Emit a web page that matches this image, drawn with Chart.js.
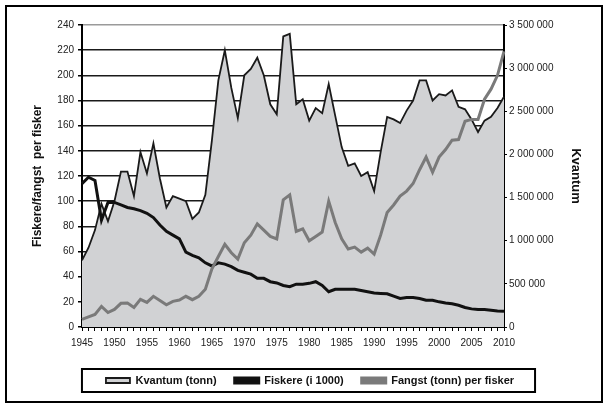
<!DOCTYPE html>
<html>
<head>
<meta charset="utf-8">
<script src="https://cdn.jsdelivr.net/npm/chart.js@4"></script>
<style>
  body { margin: 0; background: #fff; }
  #wrap { width: 610px; height: 406px; }
</style>
</head>
<body>
<div id="wrap"><canvas id="myChart" width="610" height="406"></canvas></div>
<script>
// years 1945-2010
const years = [];
for (let y = 1945; y <= 2010; y++) years.push(String(y));

// Kvantum (tonn), right axis
const kvantum = [
  773000, 919000, 1123000, 1429000, 1225000, 1458000, 1801000, 1801000, 1517000, 2027000,
  1779000, 2129000, 1721000, 1385000, 1517000, 1488000, 1458000, 1254000, 1327000, 1531000,
  2158000, 2858000, 3208000, 2771000, 2421000, 2917000, 2990000, 3121000, 2917000, 2581000,
  2465000, 3369000, 3398000, 2581000, 2640000, 2392000, 2538000, 2479000, 2815000, 2450000,
  2085000, 1867000, 1896000, 1750000, 1794000, 1575000, 2027000, 2435000, 2406000, 2363000,
  2508000, 2625000, 2858000, 2858000, 2625000, 2698000, 2683000, 2742000, 2552000, 2523000,
  2406000, 2260000, 2392000, 2435000, 2538000, 2669000
];

// Fiskere (i 1000), left axis
const fiskere = [
  114, 119, 116.5, 85, 99, 99, 97, 95, 94, 92.5,
  90.4, 87, 81, 76, 73, 70, 59.5, 57, 55, 51,
  48.5, 51, 50, 48, 45, 43.5, 42, 38.7, 38.7, 36,
  35, 33, 32, 34, 34, 34.7, 36, 33, 28, 30,
  30, 30, 30, 29, 28, 27, 26.7, 26.4, 24.5, 22.7,
  23.5, 23.5, 22.7, 21.3, 21.3, 20, 19, 18.4, 17.3, 15.5,
  14.4, 13.9, 13.9, 13.3, 12.8, 12.5
];

// Fangst (tonn) per fisker, left axis
const fangst = [
  6, 8, 10, 16.4, 11.5, 14, 18.8, 19, 15.5, 22,
  19.5, 24.4, 21, 17.7, 20.4, 21.4, 24.4, 21.7, 24.4, 30,
  46, 56, 65.7, 59, 54, 67, 73, 82, 77, 72,
  70, 101, 105, 76, 78, 68.5, 72, 75.5, 100, 83,
  70, 62, 63.5, 59.5, 62.7, 58, 73, 91, 97, 104,
  108, 114, 125, 135, 123, 135, 141, 148.5, 149, 163.5,
  165, 165, 181, 189, 200, 219
];

const font = "'Liberation Sans', Arial, sans-serif";
Chart.defaults.font.family = font;
Chart.defaults.color = "#111";

function spaced(v) {
  return String(v).replace(/\B(?=(\d{3})+(?!\d))/g, ' ');
}

const frame = {
  id: 'frame',
  afterDraw(chart) {
    const ctx = chart.ctx;
    ctx.save();
    ctx.strokeStyle = '#000';
    ctx.lineWidth = 2;
    ctx.strokeRect(6, 6, 596, 396);
    const boxes = chart.legend.legendHitBoxes;
    if (boxes && boxes.length) {
      let l = Infinity, r = -Infinity, t = Infinity, b = -Infinity;
      boxes.forEach(h => {
        l = Math.min(l, h.left); r = Math.max(r, h.left + h.width);
        t = Math.min(t, h.top); b = Math.max(b, h.top + h.height);
      });
      ctx.strokeRect(l - 24, t - 6, (r - l) + 45, (b - t) + 12);
    }
    ctx.restore();
  }
};

const ctx = document.getElementById('myChart').getContext('2d');
const myChart = new Chart(ctx, {
  type: 'line',
  data: {
    labels: years,
    datasets: [{
      label: 'Kvantum (tonn)',
      data: kvantum,
      yAxisID: 'y1',
      fill: 'origin',
      backgroundColor: '#d1d2d4',
      borderColor: '#1a1a1a',
      borderWidth: 1.8,
      pointRadius: 0,
      order: 3
    }, {
      label: 'Fiskere (i 1000)',
      data: fiskere,
      yAxisID: 'y',
      borderColor: '#111',
      backgroundColor: '#111',
      borderWidth: 3,
      pointRadius: 0,
      order: 2
    }, {
      label: 'Fangst (tonn) per fisker',
      data: fangst,
      yAxisID: 'y',
      borderColor: '#7a7a7a',
      backgroundColor: '#7a7a7a',
      borderWidth: 3,
      pointRadius: 0,
      order: 1
    }]
  },
  options: {
    responsive: false,
    animation: false,
    layout: { padding: { top: 25, bottom: 10, left: 10, right: 0 } },
    plugins: {
      tooltip: { enabled: false },
      legend: {
        position: 'bottom',
        labels: {
          sort: (a, b) => a.datasetIndex - b.datasetIndex,
          boxWidth: 24,
          boxHeight: 5,
          padding: 18,
          color: '#111',
          font: { size: 11, weight: 'bold' }
        }
      }
    },
    scales: {
      x: {
        offset: false,
        grid: { drawOnChartArea: false, drawTicks: true, tickLength: 4, tickColor: '#000' },
        border: { color: '#000', width: 2 },
        ticks: {
          autoSkip: false,
          maxRotation: 0,
          padding: 6,
          color: '#222',
          font: { size: 10 },
          callback: function(val, i) {
            const y = years[i];
            return (Number(y) % 5 === 0) ? y : '';
          }
        },
        afterFit: s => { s.height = 30; }
      },
      y: {
        position: 'left',
        min: 0,
        max: 240,
        ticks: { stepSize: 20, padding: 4, color: '#222', font: { size: 10 } },
        grid: {
          color: c => c.tick && c.tick.value === 240 ? '#9a9a9a' : '#1a1a1a',
          lineWidth: 1.5,
          tickLength: 4,
          tickColor: '#000'
        },
        border: { color: '#000', width: 2 },
        title: {
          display: true,
          text: 'Fiskere/fangst  per fisker',
          color: '#111',
          font: { size: 12, weight: 'bold' },
          padding: { top: 20, bottom: 0 }
        },
        afterFit: s => { s.width = 72; }
      },
      y1: {
        position: 'right',
        min: 0,
        max: 3500000,
        ticks: {
          stepSize: 500000,
          padding: 2,
          color: '#222',
          font: { size: 10 },
          callback: v => spaced(v)
        },
        grid: { drawOnChartArea: false, tickLength: 3, tickColor: '#000' },
        border: { color: '#000', width: 2 },
        title: {
          display: true,
          text: 'Kvantum',
          color: '#111',
          font: { size: 13, weight: 'bold' },
          padding: { top: 27, bottom: 0 }
        },
        afterFit: s => { s.width = 106; }
      }
    }
  },
  plugins: [frame]
});
</script>
</body>
</html>
